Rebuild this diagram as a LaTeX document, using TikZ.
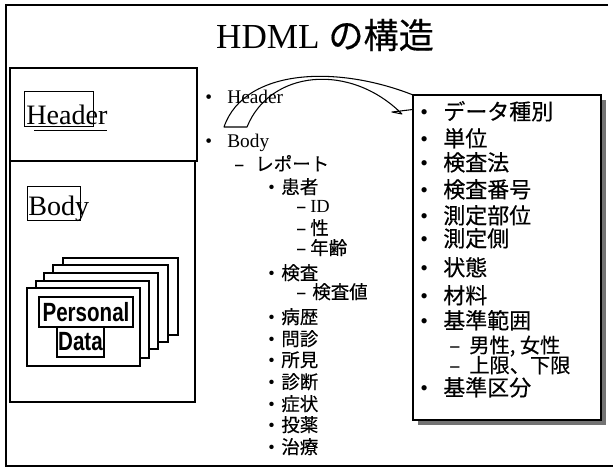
\documentclass[tikz,border=0pt]{standalone}
\usepackage{fontspec}
\setmainfont{Liberation Serif}
\newfontfamily\jp[FakeBold=0.4]{Noto Sans CJK JP}
\newfontfamily\cond[FakeStretch=0.78]{Liberation Sans}
\usetikzlibrary{shadows}
\tikzset{%
  frame/.style={line width=1.2pt},
  part/.style={draw, line width=0.8pt},
  tag/.style={draw, line width=0.5pt},
  card/.style={draw, fill=white, line width=0.7pt,
    drop shadow={shadow xshift=0.6pt, shadow yshift=-0.6pt, fill=black, opacity=1}},
  stamp/.style={draw, line width=0.7pt, inner sep=0pt,
    font=\cond\bfseries\fontsize{15}{15}\selectfont},
  item/.style={anchor=west, inner sep=0pt, text height=0.88em, text depth=0.12em},
  latin/.style={item, font=\fontsize{11}{13}\selectfont},
  midlist/.style={item, font=\jp\fontsize{10.5}{12}\selectfont},
  sublist/.style={item, font=\jp\fontsize{12.5}{14}\selectfont},
  detail/.style={draw, fill=white, line width=0.8pt, inner sep=0pt,
    minimum width=3.76cm, minimum height=6.5cm,
    drop shadow={shadow xshift=0.1cm, shadow yshift=-0.1cm, fill=black!55, opacity=1}},
  bigarrow/.style={draw, fill=white, line width=0.6pt, line join=round}
}
\newcommand{\lead}[2]{\makebox[#1][l]{#2}}

\begin{document}
\begin{tikzpicture}[x=0.02cm, y=-0.02cm]
  \useasboundingbox (0,0) rectangle (613,468);
  \draw[frame] (608,5) -- (6,5) -- (6,466) -- (613,466);
  \node[font=\fontsize{20}{24}\selectfont] (title) at (325,35) {HDML {\jp の構造}};

  % document parts on the left
  \draw[part] (10,68) rectangle (197,161);
  \draw[part] (10,161) rectangle (195,402);
  \draw[tag] (24,91) rectangle (93,126);
  \node[anchor=base west, inner sep=0pt, font=\fontsize{16}{16}\selectfont] (hlabel) at (26,124) {Header};
  \draw (34,130) -- (107,130);
  \draw[tag] (27,186) rectangle (80,220);
  \node[anchor=base west, inner sep=0pt, font=\fontsize{16}{16}\selectfont] (blabel) at (28,215) {Body};

  % stack of records
  \draw[card] (63,258) rectangle (178,335);
  \draw[card] (53,265) rectangle (168,342);
  \draw[card] (44,273) rectangle (158,349);
  \draw[card] (36,281) rectangle (149,358);
  \draw[card] (27,288) rectangle (140,366);
  \node[stamp, minimum width=1.88cm, minimum height=0.6cm] (pers) at (86,312) {Personal};
  \node[stamp, minimum width=0.94cm, minimum height=0.6cm] (pdata) at (80.5,342) {Data};

  % curved block arrow, its head goes under the detail box
  \draw[bigarrow] (224,127) .. controls (245,66) and (345,64) .. (425,100)
    -- (425,108) -- (392,112) -- (402,114)
    .. controls (350,62) and (270,70) .. (247,127) -- cycle;

  % element tree
  \node[latin] (mhead) at (205,97) {\lead{0.44cm}{•}Header};
  \node[latin] (mbody) at (205,141) {\lead{0.44cm}{•}Body};
  \node[midlist] (report) at (234,164) {\lead{0.42cm}{–}レポート};
  \node[midlist] (kanja) at (268,187) {\lead{0.26cm}{\rmfamily•}患者};
  \node[midlist] (pid) at (296,206) {\lead{0.28cm}{–}{\rmfamily ID}};
  \node[midlist] (sei) at (296,228) {\lead{0.28cm}{–}性};
  \node[midlist] (nenrei) at (296,248) {\lead{0.28cm}{–}年齢};
  \node[midlist] (kensa) at (268,273) {\lead{0.26cm}{\rmfamily•}検査};
  \node[midlist] (kensachi) at (296,292) {\lead{0.32cm}{–}検査値};
  \node[midlist] (byoreki) at (268,317) {\lead{0.26cm}{\rmfamily•}病歴};
  \node[midlist] (monshin) at (268,339) {\lead{0.26cm}{\rmfamily•}問診};
  \node[midlist] (shoken) at (268,360) {\lead{0.26cm}{\rmfamily•}所見};
  \node[midlist] (shindan) at (268,382) {\lead{0.26cm}{\rmfamily•}診断};
  \node[midlist] (shojo) at (268,404) {\lead{0.26cm}{\rmfamily•}症状};
  \node[midlist] (toyaku) at (268,425) {\lead{0.26cm}{\rmfamily•}投薬};
  \node[midlist] (chiryo) at (268,447) {\lead{0.26cm}{\rmfamily•}治療};

  % details of a test value
  \node[detail] (detail) at (507,257.5) {};
  \node[sublist] (k1) at (420,113) {\lead{0.46cm}{\rmfamily•}データ種別};
  \node[sublist] (k2) at (420,140) {\lead{0.46cm}{\rmfamily•}単位};
  \node[sublist] (k3) at (420,164) {\lead{0.46cm}{\rmfamily•}検査法};
  \node[sublist] (k4) at (420,191) {\lead{0.46cm}{\rmfamily•}検査番号};
  \node[sublist] (k5) at (420,217) {\lead{0.46cm}{\rmfamily•}測定部位};
  \node[sublist] (k6) at (420,240) {\lead{0.46cm}{\rmfamily•}測定側};
  \node[sublist] (k7) at (420,269) {\lead{0.46cm}{\rmfamily•}状態};
  \node[sublist] (k8) at (420,297) {\lead{0.46cm}{\rmfamily•}材料};
  \node[sublist] (k9) at (420,322) {\lead{0.46cm}{\rmfamily•}基準範囲};
  \node[midlist, font=\jp\fontsize{11.5}{13}\selectfont] (k9a) at (449,346) {\lead{0.4cm}{–}男性, 女性};
  \node[midlist, font=\jp\fontsize{11.5}{13}\selectfont] (k9b) at (449,366) {\lead{0.4cm}{–}上限、下限};
  \node[sublist] (k10) at (420,389) {\lead{0.46cm}{\rmfamily•}基準区分};
\end{tikzpicture}
\end{document}
